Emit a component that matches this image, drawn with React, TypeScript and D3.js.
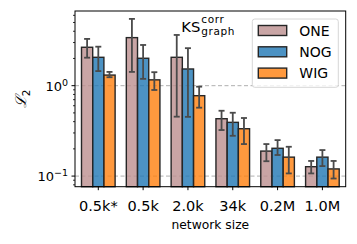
import React from "react";
import * as d3 from "d3";

const categories = ["0.5k*", "0.5k", "2.0k", "34k", "0.2M", "1.0M"];
const seriesNames = ["ONE", "NOG", "WIG"];
const seriesColors = ["rgba(188,143,143,0.8)", "rgba(31,119,180,0.8)", "rgba(255,127,14,0.8)"];
const oneValues = [2.66, 3.4, 2.06, 0.431, 0.189, 0.127];
const oneLow = [2.04, 1.42, 0.454, 0.323, 0.146, 0.107];
const oneHigh = [3.29, 5.48, 3.64, 0.528, 0.226, 0.147];
const nogValues = [2.06, 2.01, 1.53, 0.393, 0.203, 0.162];
const nogLow = [1.45, 1.19, 0.452, 0.279, 0.171, 0.129];
const nogHigh = [2.7, 2.82, 2.6, 0.502, 0.25, 0.194];
const wigValues = [1.31, 1.16, 0.775, 0.334, 0.162, 0.12];
const wigLow = [1.24, 0.896, 0.571, 0.226, 0.107, 0.094];
const wigHigh = [1.42, 1.41, 0.975, 0.439, 0.211, 0.147];
const majorTicks = [0.1, 1];
const minorTicks = [0.08, 0.09, 0.2, 0.3, 0.4, 0.5, 0.6, 0.7, 0.8, 0.9, 2, 3, 4, 5, 6];

const series = [
  { values: oneValues, low: oneLow, high: oneHigh },
  { values: nogValues, low: nogLow, high: nogHigh },
  { values: wigValues, low: wigLow, high: wigHigh },
];

const L = 75, R = 345.7, T = 11, B = 186.7;

export default function App() {
  const x = d3.scaleLinear().domain([-0.52, categories.length - 1 + 0.52]).range([L, R]);
  const y = d3.scaleLog().domain([0.0763, 6.7]).range([B, T]);
  const step = x(1) - x(0);
  const bw = step * 0.25;
  const font = "DejaVu Sans, sans-serif";
  return (
    <svg width={357} height={244} style={{ position: "absolute", left: 0, top: 0 }} fontFamily={font}>
      <rect width={357} height={244} fill="white" />
      {majorTicks.map((t) => (
        <line key={t} x1={L} x2={R} y1={y(t)} y2={y(t)} stroke="#b0b0b0" strokeWidth={1} strokeDasharray="4,2.5" />
      ))}
      {series.map((s, si) =>
        s.values.map((v, i) => {
          const cx = x(i) + (si - 1) * bw;
          return (
            <rect key={`b${si}-${i}`} x={cx - bw / 2} y={y(v)} width={bw} height={B - y(v)}
              fill={seriesColors[si]} stroke="#262626" strokeWidth={1.4} />
          );
        })
      )}
      {series.map((s, si) =>
        s.values.map((v, i) => {
          const cx = x(i) + (si - 1) * bw;
          return (
            <g key={`e${si}-${i}`} stroke="#4a4a4a" strokeWidth={1.8}>
              <line x1={cx} x2={cx} y1={y(s.low[i])} y2={y(s.high[i])} />
              <line x1={cx - 3} x2={cx + 3} y1={y(s.low[i])} y2={y(s.low[i])} />
              <line x1={cx - 3} x2={cx + 3} y1={y(s.high[i])} y2={y(s.high[i])} />
            </g>
          );
        })
      )}
      <rect x={L} y={T} width={R - L} height={B - T} fill="none" stroke="black" strokeWidth={1} />
      {majorTicks.map((t) => (
        <g key={`mt${t}`}>
          <line x1={L - 3.5} x2={L} y1={y(t)} y2={y(t)} stroke="black" strokeWidth={1} />
          <text x={L - 7} y={y(t) + 5} textAnchor="end" fontSize={13}>
            10<tspan dy={-5} fontSize={9.5}>{t === 1 ? "0" : "−1"}</tspan>
          </text>
        </g>
      ))}
      {minorTicks.map((t) => (
        <line key={`mn${t}`} x1={L - 2} x2={L} y1={y(t)} y2={y(t)} stroke="black" strokeWidth={0.8} />
      ))}
      {categories.map((c, i) => (
        <g key={c}>
          <line x1={x(i)} x2={x(i)} y1={B} y2={B + 3.5} stroke="black" strokeWidth={1} />
          <text x={x(i)} y={210.5} textAnchor="middle" fontSize={14.5}>{c}</text>
        </g>
      ))}
      <text x={(L + R) / 2} y={228.5} textAnchor="middle" fontSize={12.3}>network size</text>
      <text transform="translate(26,99) rotate(-90)" textAnchor="middle" fontSize={15} fontStyle="italic" fontFamily="DejaVu Serif, serif">
        ℒ<tspan dy={4} fontSize={10.5} fontStyle="normal" fontFamily={font}>2</tspan>
      </text>
      <text x={181.3} y={31.5} fontSize={14.8}>KS</text>
      <text x={201.3} y={23} fontSize={10.5} letterSpacing={0.6}>corr</text>
      <text x={201.3} y={35.4} fontSize={10.5} letterSpacing={0.6}>graph</text>
      <rect x={252.3} y={19} width={86} height={68.3} rx={2.5} fill="white" fillOpacity={0.8} stroke="#d6d6d6" strokeWidth={1} />
      {seriesNames.map((n, i) => {
        const cy = 30.5 + i * 21.3;
        return (
          <g key={n}>
            <rect x={258.3} y={cy - 5} width={28.4} height={10} fill={seriesColors[i]} stroke="#262626" strokeWidth={1.4} />
            <text x={299.3} y={cy + 5.2} fontSize={14}>{n}</text>
          </g>
        );
      })}
    </svg>
  );
}
